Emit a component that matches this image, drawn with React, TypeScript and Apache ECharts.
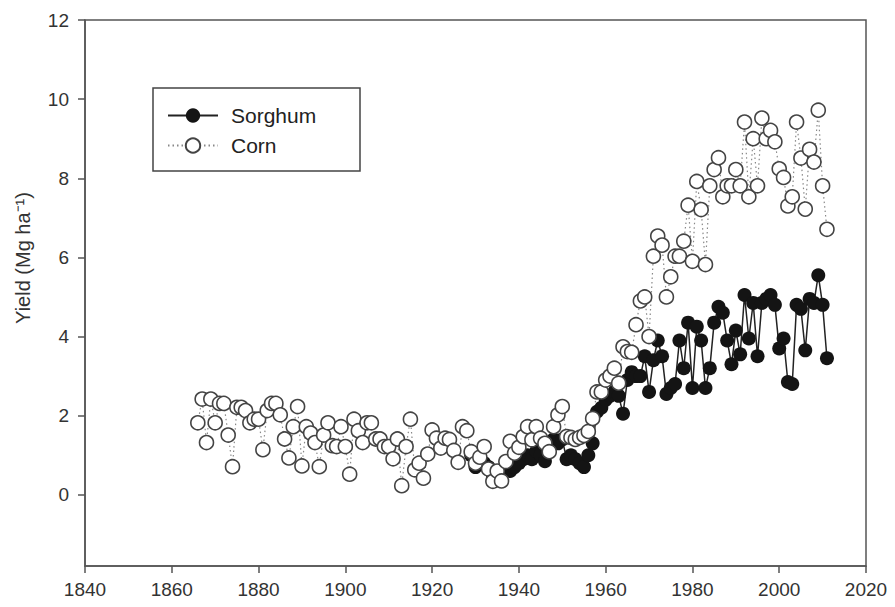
import React, { useEffect, useRef } from "react";
import * as echarts from "echarts";

// Corn yield (Mg ha-1), one value per year starting 1866
const CORN_START = 1866;
const cornYield = [
  1.82, 2.42, 1.32, 2.42, // 1866-1869
  1.82, 2.31, 2.31, 1.51, 0.71, 2.21, 2.21, 2.13, 1.82, 1.91, // 1870s
  1.91, 1.14, 2.13, 2.31, 2.31, 2.02, 1.41, 0.93, 1.72, 2.23, // 1880s
  0.73, 1.72, 1.56, 1.32, 0.71, 1.51, 1.82, 1.24, 1.22, 1.72, // 1890s
  1.22, 0.52, 1.91, 1.62, 1.32, 1.82, 1.82, 1.41, 1.41, 1.22, // 1900s
  1.22, 0.91, 1.41, 0.23, 1.22, 1.91, 0.63, 0.8, 0.42, 1.03, // 1910s
  1.64, 1.43, 1.18, 1.43, 1.4, 1.12, 0.82, 1.72, 1.62, 1.09, // 1920s
  0.8, 0.95, 1.22, 0.65, 0.34, 0.6, 0.35, 0.84, 1.35, 1.05, // 1930s
  1.2, 1.47, 1.72, 1.39, 1.72, 1.43, 1.3, 1.09, 1.72, 2.02, // 1940s
  2.23, 1.47, 1.45, 1.4, 1.45, 1.5, 1.6, 1.93, 2.6, 2.6, // 1950s
  2.9, 3.0, 3.2, 2.82, 3.74, 3.62, 3.6, 4.3, 4.9, 5.0, // 1960s
  4.0, 6.03, 6.54, 6.31, 5.0, 5.51, 6.03, 6.03, 6.41, 7.32, // 1970s
  5.9, 7.92, 7.21, 5.82, 7.81, 8.22, 8.52, 7.53, 7.81, 7.81, // 1980s
  8.22, 7.81, 9.42, 7.53, 9.0, 7.81, 9.52, 9.0, 9.21, 8.92, // 1990s
  8.24, 8.02, 7.3, 7.53, 9.42, 8.51, 7.22, 8.73, 8.41, 9.72, // 2000s
  7.81, 6.71, // 2010-2011
];

// Sorghum yield (Mg ha-1), one value per year starting 1929
const SORGHUM_START = 1929;
const sorghumYield = [
  1.0, // 1929
  0.7, 0.8, 0.8, 0.7, 0.5, 0.4, 0.35, 0.7, 0.6, 0.7, // 1930s
  0.8, 0.9, 1.0, 0.9, 1.1, 1.0, 0.85, 1.1, 1.4, 1.3, // 1940s
  1.4, 0.9, 1.0, 0.9, 0.8, 0.7, 1.0, 1.3, 2.1, 2.2, // 1950s
  2.4, 2.5, 2.6, 2.5, 2.05, 2.9, 3.1, 3.0, 3.0, 3.5, // 1960s
  2.6, 3.4, 3.9, 3.5, 2.55, 2.7, 2.8, 3.9, 3.2, 4.35, // 1970s
  2.7, 4.25, 3.9, 2.7, 3.2, 4.35, 4.75, 4.6, 3.9, 3.3, // 1980s
  4.15, 3.55, 5.05, 3.95, 4.85, 3.5, 4.85, 4.95, 5.05, 4.8, // 1990s
  3.7, 3.95, 2.85, 2.8, 4.8, 4.7, 3.65, 4.95, 4.85, 5.55, // 2000s
  4.8, 3.45, // 2010-2011
];

const xTickLabels = [1840, 1860, 1880, 1900, 1920, 1940, 1960, 1980, 2000, 2020];
const yTickLabels = [0, 2, 4, 6, 8, 10, 12];
const seriesNames = ["Sorghum", "Corn"];
const yAxisTitle = "Yield (Mg ha⁻¹)";

export default function App() {
  const ref = useRef<HTMLDivElement>(null);

  useEffect(() => {
    document.body.style.margin = "0";
    const chart = echarts.init(ref.current!, null, { renderer: "svg" });
    const font = "'Liberation Sans', Arial, sans-serif";
    const axisColor = "#555";
    const textColor = "#333";

    const sorghumData = sorghumYield.map((v, i) => [SORGHUM_START + i, v]);
    const cornData = cornYield.map((v, i) => [CORN_START + i, v]);

    chart.setOption({
      animation: false,
      backgroundColor: "#ffffff",
      grid: {
        left: 85,
        right: 29,
        top: 20,
        bottom: 41,
        show: true,
        borderColor: axisColor,
        borderWidth: 1.5,
        backgroundColor: "transparent",
      },
      xAxis: {
        type: "value",
        min: xTickLabels[0],
        max: xTickLabels[xTickLabels.length - 1],
        interval: 20,
        axisLine: { show: true, onZero: false, lineStyle: { color: axisColor, width: 1.5 } },
        axisTick: { show: true, inside: false, length: 7, lineStyle: { color: axisColor, width: 1.5 } },
        axisLabel: {
          margin: 14,
          fontSize: 19,
          color: textColor,
          fontFamily: font,
          formatter: (v: number) => String(v),
        },
        splitLine: { show: false },
      },
      yAxis: {
        type: "value",
        min: -1.8,
        max: 12,
        axisLine: { show: true, onZero: false, lineStyle: { color: axisColor, width: 1.5 } },
        axisTick: {
          show: true,
          inside: false,
          length: 7,
          customValues: yTickLabels,
          lineStyle: { color: axisColor, width: 1.5 },
        },
        axisLabel: {
          margin: 16,
          fontSize: 19,
          color: textColor,
          fontFamily: font,
          customValues: yTickLabels,
          formatter: (v: number) => String(v),
        },
        splitLine: { show: false },
      },
      legend: {
        orient: "vertical",
        left: 167,
        top: 105,
        padding: 0,
        itemGap: 9,
        itemWidth: 50,
        itemHeight: 18,
        data: seriesNames,
        textStyle: { fontSize: 21, color: "#222", fontFamily: font, padding: [0, 0, 0, 8] },
      },
      graphic: [
        {
          type: "rect",
          shape: { x: 153, y: 88, width: 207, height: 83 },
          style: { fill: "none", stroke: "#444", lineWidth: 1.5 },
          z: 100,
        },
        {
          type: "text",
          x: 23,
          y: 258,
          rotation: Math.PI / 2,
          style: {
            text: yAxisTitle,
            fontSize: 20,
            fontFamily: font,
            fill: textColor,
            textAlign: "center",
            textVerticalAlign: "middle",
          },
        },
      ],
      series: [
        {
          name: seriesNames[0],
          type: "line",
          data: sorghumData,
          symbol: "circle",
          symbolSize: 14,
          showSymbol: true,
          itemStyle: { color: "#141414" },
          lineStyle: { color: "#222", width: 1.5 },
        },
        {
          name: seriesNames[1],
          type: "line",
          data: cornData,
          symbol: "circle",
          symbolSize: 14,
          showSymbol: true,
          itemStyle: { color: "#ffffff", borderColor: "#444", borderWidth: 1.6 },
          lineStyle: { color: "#888", width: 1.2, type: [1.5, 3] },
        },
      ],
    });

    return () => chart.dispose();
  }, []);

  return <div ref={ref} style={{ width: 895, height: 607 }} />;
}
